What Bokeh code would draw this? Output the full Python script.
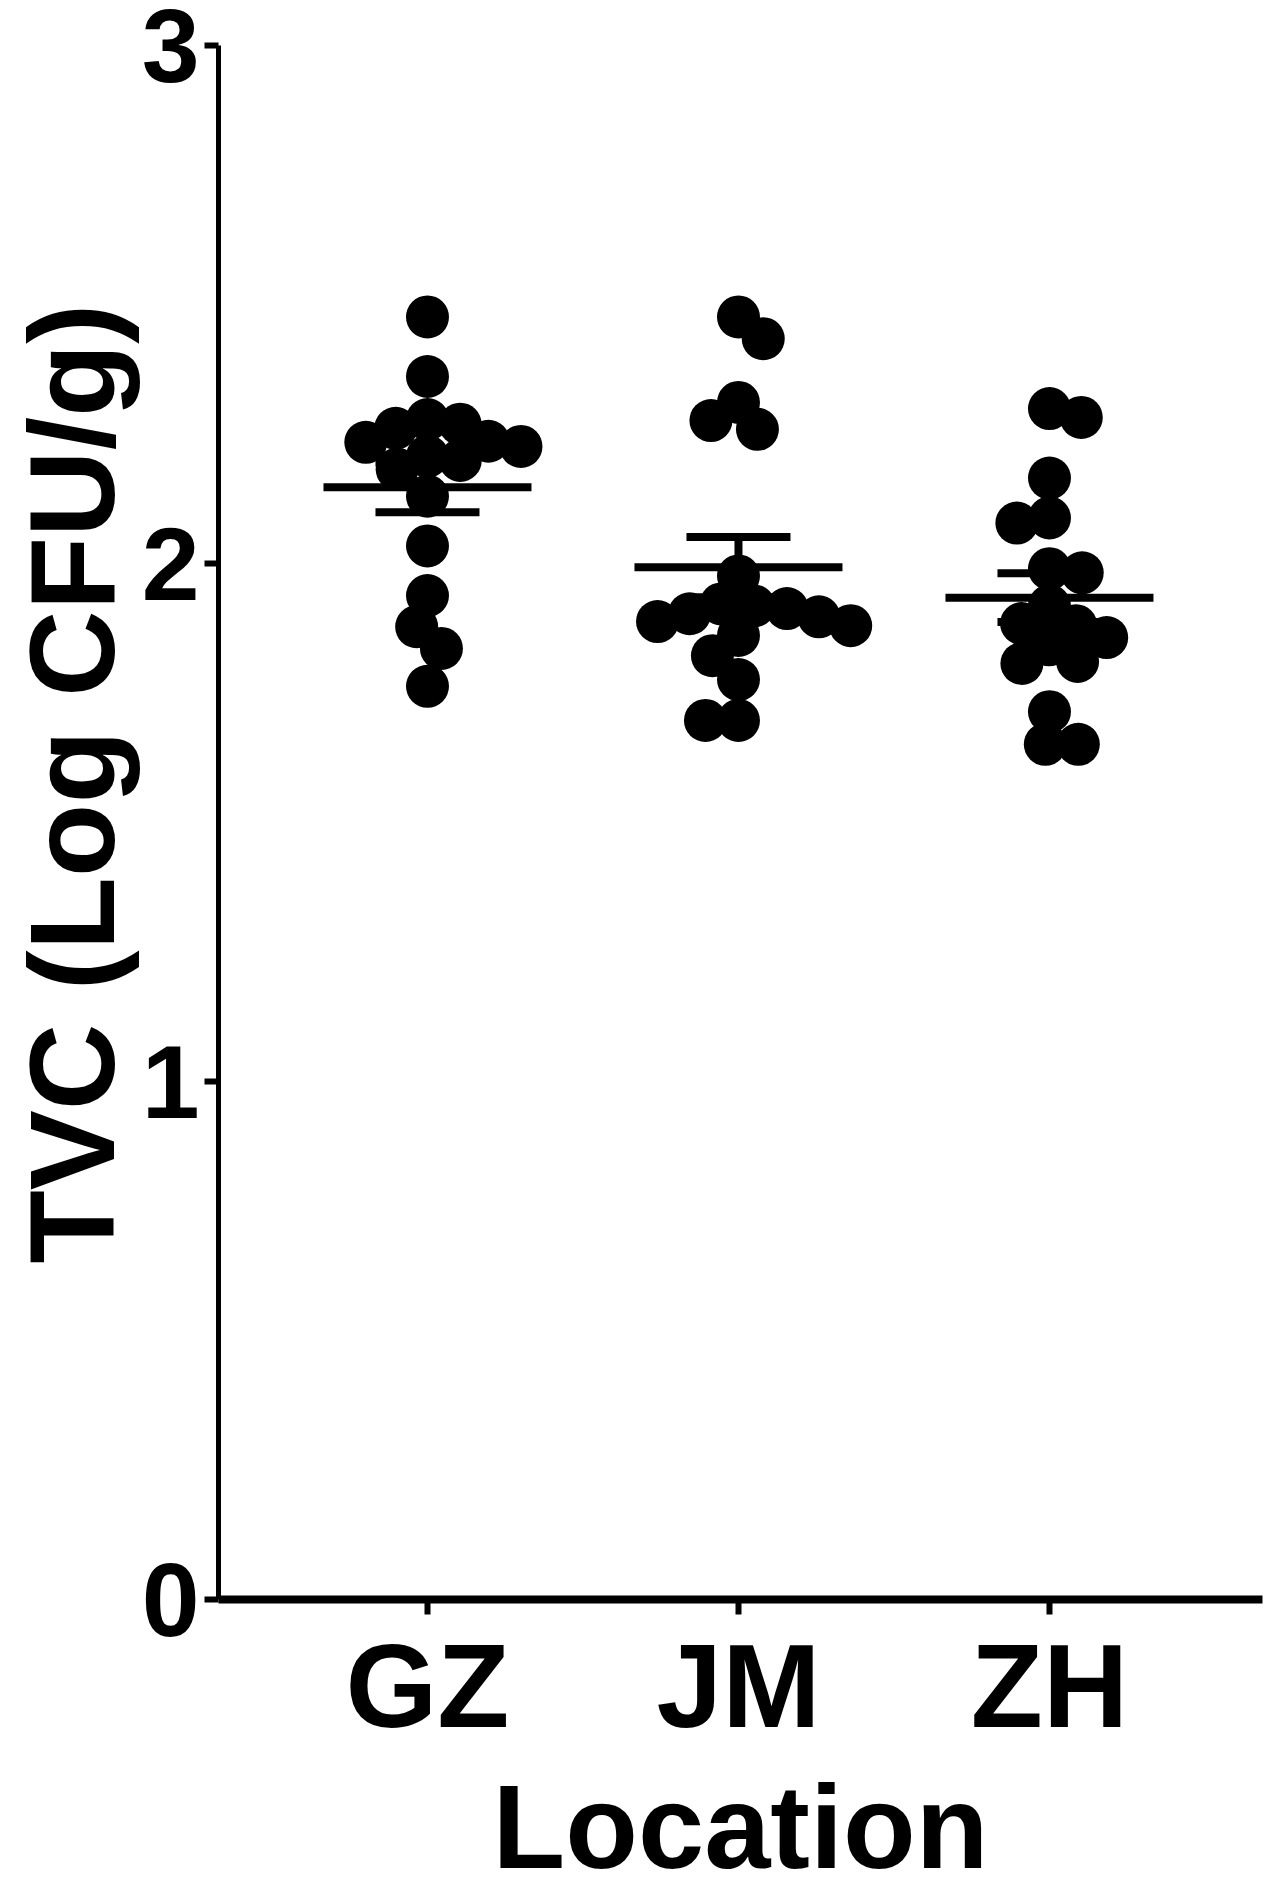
import math
from bokeh.plotting import figure
from bokeh.models import FixedTicker, Title
from bokeh.embed import file_html
from bokeh.resources import INLINE

# ---------------- data ----------------
categories = ["GZ", "JM", "ZH"]
gz_values = [2.476, 2.361, 2.278, 2.269, 2.261, 2.236, 2.234, 2.226, 2.207,
             2.199, 2.182, 2.130, 2.034, 1.938, 1.878, 1.836, 1.763]
jm_values = [2.476, 2.434, 2.311, 2.276, 2.259, 1.976, 1.922, 1.918, 1.913,
             1.903, 1.897, 1.888, 1.880, 1.861, 1.822, 1.776, 1.697, 1.697]
zh_values = [2.299, 2.282, 2.165, 2.088, 2.078, 1.990, 1.982, 1.918, 1.884,
             1.880, 1.857, 1.843, 1.811, 1.807, 1.714, 1.651, 1.651]
group_means = [2.147, 1.993, 1.934]
group_sems = [0.048, 0.058, 0.047]
y_ticks = [0, 1, 2, 3]
y_title = "TVC (Log CFU/g)"
x_title = "Location"

# ---------------- layout ----------------
W, H = 1266, 1895
B_LEFT, B_RIGHT, B_TOP, B_BOTTOM = 218, 4, 45, 291
FRAME_W = W - B_LEFT - B_RIGHT
FRAME_H = H - B_TOP - B_BOTTOM
X0, X1 = 0.328, 3.685
Y0, Y1 = 0, 3
XPPU = FRAME_W / (X1 - X0)
YPPU = FRAME_H / (Y1 - Y0)

FONT = "Liberation Sans"
DOT = 43


def swarm(vals, min_px=33.0):
    """Classic beeswarm: smallest horizontal offset (data units) that keeps
    dot centres at least min_px apart."""
    order = sorted(range(len(vals)), key=lambda i: -vals[i])
    placed = []
    offs = [0.0] * len(vals)
    for i in order:
        y = vals[i] * YPPU
        near = [(px, py) for px, py in placed if abs(py - y) < min_px]
        cands = [0.0]
        for px, py in near:
            d = math.sqrt(min_px ** 2 - (py - y) ** 2)
            cands += [px + d + 0.01, px - d - 0.01]
        bal = sum(px for px, _ in placed)
        cands.sort(key=lambda c: (round(abs(c), 3), c * (1 if bal > 0 else -1)))
        x = 0.0
        for c in cands:
            if all((c - px) ** 2 + (y - py) ** 2 >= min_px ** 2 - 1e-6 for px, py in near):
                x = c
                break
        placed.append((x, y))
        offs[i] = x / XPPU
    return offs


p = figure(width=W, height=H, x_range=(X0, X1), y_range=(Y0, Y1),
           output_backend="svg", toolbar_location=None,
           min_border_left=B_LEFT, min_border_right=B_RIGHT,
           min_border_top=B_TOP, min_border_bottom=B_BOTTOM)
p.outline_line_color = None
p.xgrid.visible = False
p.ygrid.visible = False
p.background_fill_color = "white"
p.border_fill_color = "white"

groups = [gz_values, jm_values, zh_values]
for i, vals in enumerate(groups):
    pos = i + 1
    offs = swarm(vals)
    p.scatter(x=[pos + o for o in offs], y=vals, size=DOT,
              fill_color="black", line_color=None)

MEAN_HALF = 104 / XPPU
CAP_HALF = 52 / XPPU
pos = [i + 1 for i in range(len(categories))]
lo = [m - s for m, s in zip(group_means, group_sems)]
hi = [m + s for m, s in zip(group_means, group_sems)]
p.segment(x0=[c - MEAN_HALF for c in pos], x1=[c + MEAN_HALF for c in pos],
          y0=group_means, y1=group_means, line_color="black", line_width=8)
p.segment(x0=pos, x1=pos, y0=lo, y1=hi, line_color="black", line_width=8)
p.segment(x0=[c - CAP_HALF for c in pos], x1=[c + CAP_HALF for c in pos],
          y0=lo, y1=lo, line_color="black", line_width=8)
p.segment(x0=[c - CAP_HALF for c in pos], x1=[c + CAP_HALF for c in pos],
          y0=hi, y1=hi, line_color="black", line_width=8)

# x axis
xa = p.xaxis[0]
xa.ticker = FixedTicker(ticks=pos)
xa.major_label_overrides = {c: name for c, name in zip(pos, categories)}
xa.axis_line_width = 8
xa.axis_line_color = "black"
xa.major_tick_line_width = 6
xa.major_tick_line_color = "black"
xa.major_tick_out = 15
xa.major_tick_in = 0
xa.minor_tick_out = 0
xa.minor_tick_in = 0
xa.major_label_standoff = 5
xa.major_label_text_font = FONT
xa.major_label_text_font_style = "bold"
xa.major_label_text_font_size = "118px"
xa.major_label_text_color = "black"

# y axis
ya = p.yaxis[0]
ya.ticker = FixedTicker(ticks=y_ticks)
ya.axis_line_width = 5
ya.axis_line_color = "black"
ya.major_tick_line_width = 6
ya.major_tick_line_color = "black"
ya.major_tick_out = 14
ya.major_tick_in = 0
ya.minor_tick_out = 0
ya.minor_tick_in = 0
ya.major_label_standoff = 5
ya.major_label_text_font = FONT
ya.major_label_text_font_style = "bold"
ya.major_label_text_font_size = "104px"
ya.major_label_text_color = "black"

# axis titles (as side titles so they can be shifted along the axis)
p.add_layout(Title(text=y_title, align="left", offset=336, standoff=0,
                   text_font=FONT, text_font_style="bold",
                   text_font_size="120px", text_color="black"), "left")
p.add_layout(Title(text=x_title, align="center", standoff=6,
                   text_font=FONT, text_font_style="bold",
                   text_font_size="119px", text_color="black"), "below")

open("out.html", "w").write(file_html(p, INLINE))
